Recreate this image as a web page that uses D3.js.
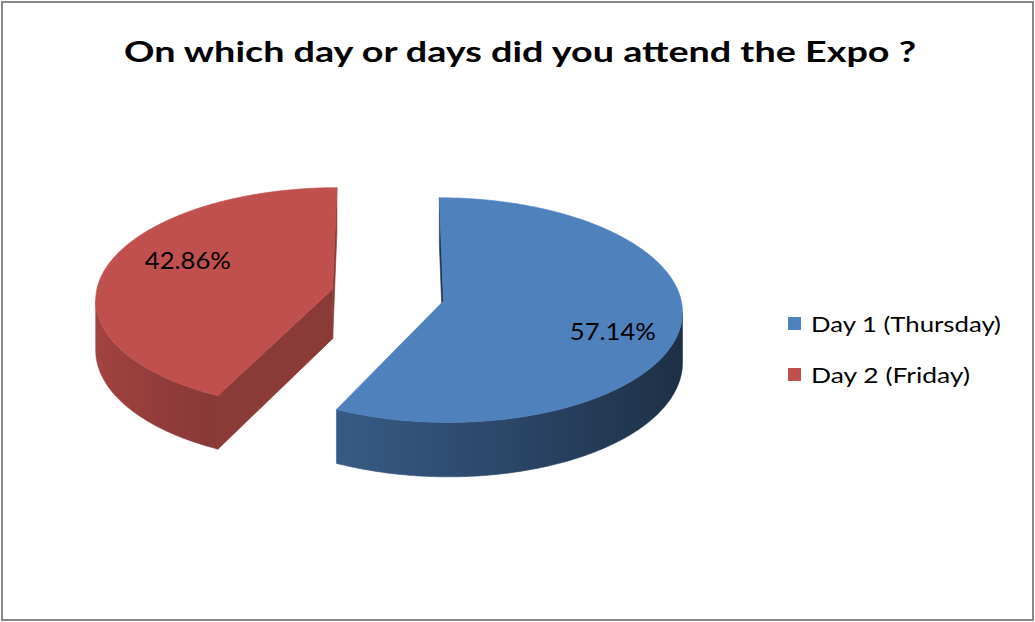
<!DOCTYPE html>
<html>
<head>
<meta charset="utf-8">
<script src="https://cdn.jsdelivr.net/npm/d3@7"></script>
<style>
  html, body { margin: 0; padding: 0; background: #fff; }
  svg { display: block; }
  text { font-family: Lato, "Open Sans", "DejaVu Sans", sans-serif; fill: #000; }
</style>
</head>
<body>
<svg id="chart" width="1035" height="622"></svg>
<script>
// ---- data ----
const chartTitle = "On which day or days did you attend the Expo ?";
const categories = ["Day 1 (Thursday)", "Day 2 (Friday)"];
const shares = [57.14, 42.86];
const palette = ["#4f81bd", "#c0504d"];

const W = 1035, H = 622;
const svg = d3.select("#chart");
const defs = svg.append("defs");

// frame
svg.append("rect")
  .attr("x", 2).attr("y", 2).attr("width", W - 4).attr("height", H - 4)
  .attr("fill", "#fff").attr("stroke", "#878787").attr("stroke-width", 2);

// title
svg.append("text")
  .attr("x", 520).attr("y", 62)
  .attr("text-anchor", "middle")
  .attr("font-size", 28).attr("font-weight", "bold")
  .attr("textLength", 792).attr("lengthAdjust", "spacingAndGlyphs")
  .text(chartTitle);

// ---- perspective view of the pie plane ----
// World coords: X to the right, Y toward the viewer, radius = 1.
const view = { vx: 389, vy: -1066, F: 1368, h: -0.0817, a: 238, thick: 50 };
const camera = [0, -1 / view.h];
function project(X, Y, down) {
  const s = 1 / (1 + view.h * Y);
  return [view.vx + view.a * X * s, view.vy + view.F * s + (down ? view.thick * s : 0)];
}
const dir = t => [Math.sin(t), -Math.cos(t)];
const shade = (base, f) => { const c = d3.rgb(base); return d3.rgb(c.r * f, c.g * f, c.b * f); };
const wallShade = t => 0.6 - 0.24 * Math.sin(t);

const pieCenter = [-0.005, -0.063];
const explode = 0.24;

const arcs = d3.pie().sort(null).startAngle(0).endAngle(2 * Math.PI)(shares);
const line = d3.line();
const STEP = Math.PI / 360;

function sampleAngles(a0, a1) {
  const n = Math.max(2, Math.ceil((a1 - a0) / STEP));
  return d3.range(n + 1).map(i => a0 + (a1 - a0) * i / n);
}

arcs.forEach((d, i) => {
  const base = palette[i];
  const mid = (d.startAngle + d.endAngle) / 2;
  const md = dir(mid);
  const apex = [pieCenter[0] + explode * md[0], pieCenter[1] + explode * md[1]];
  const rim = t => { const v = dir(t); return [apex[0] + v[0], apex[1] + v[1]]; };
  const g = svg.append("g").attr("class", "slice");

  // outer wall: the part whose normal faces the camera
  const angles = sampleAngles(d.startAngle, d.endAngle).filter(t => {
    const p = rim(t), n = dir(t);
    return n[0] * (camera[0] - p[0]) + n[1] * (camera[1] - p[1]) > 0;
  });
  if (angles.length > 1) {
    const top = angles.map(t => project(...rim(t), false));
    const bottom = angles.map(t => project(...rim(t), true)).reverse();
    const xs = top.map(p => p[0]);
    const x0 = d3.min(xs), x1 = d3.max(xs);
    const gid = "wall" + i;
    const grad = defs.append("linearGradient").attr("id", gid)
      .attr("gradientUnits", "userSpaceOnUse")
      .attr("x1", x0).attr("x2", x1).attr("y1", 0).attr("y2", 0);
    const stops = angles.map((t, k) => ({ o: (top[k][0] - x0) / (x1 - x0 || 1), c: shade(base, wallShade(t)) }))
      .sort((p, q) => p.o - q.o);
    grad.selectAll("stop").data(stops).join("stop")
      .attr("offset", s => s.o).attr("stop-color", s => s.c);
    g.append("path").attr("d", line(top.concat(bottom)) + "Z")
      .attr("fill", `url(#${gid})`).attr("stroke", `url(#${gid})`).attr("stroke-width", 0.6);
  }

  // radial cut faces
  [[d.startAngle, -1], [d.endAngle, 1]].forEach(([t, sgn]) => {
    const n = [sgn * Math.cos(t), sgn * Math.sin(t)];
    if (n[0] * (camera[0] - apex[0]) + n[1] * (camera[1] - apex[1]) <= 0) return;
    const r = rim(t);
    const pts = [project(...apex, false), project(...r, false), project(...r, true), project(...apex, true)];
    const c = shade(base, n[0] > 0 ? 0.72 : 0.42);
    g.append("path").attr("d", line(pts) + "Z").attr("fill", c).attr("stroke", c).attr("stroke-width", 0.6);
  });

  // top face
  const face = [project(...apex, false)].concat(sampleAngles(d.startAngle, d.endAngle).map(t => project(...rim(t), false)));
  g.append("path").attr("d", line(face) + "Z")
    .attr("fill", base).attr("stroke", base).attr("stroke-width", 0.6);

  // value label, placed inside the slice along its bisector
  const lp = project(apex[0] + 0.68 * md[0], apex[1] + 1.2 * md[1], false);
  g.append("text")
    .attr("x", lp[0] + 7).attr("y", lp[1] + 9)
    .attr("text-anchor", "middle")
    .attr("font-size", 24)
    .attr("textLength", 86).attr("lengthAdjust", "spacingAndGlyphs")
    .text(d3.format(".2f")(d.data) + "%");
});

// ---- legend ----
const legendY = d3.scalePoint().domain(categories).range([324, 375]);
const legend = svg.append("g").attr("class", "legend");
const legendWidths = [190, 159];
categories.forEach((c, i) => {
  const y = legendY(c);
  legend.append("rect").attr("x", 788).attr("y", y - 7).attr("width", 13).attr("height", 13)
    .attr("fill", palette[i]);
  legend.append("text").attr("x", 811).attr("y", y + 8)
    .attr("font-size", 21)
    .attr("textLength", legendWidths[i]).attr("lengthAdjust", "spacingAndGlyphs")
    .text(c);
});
</script>
</body>
</html>
